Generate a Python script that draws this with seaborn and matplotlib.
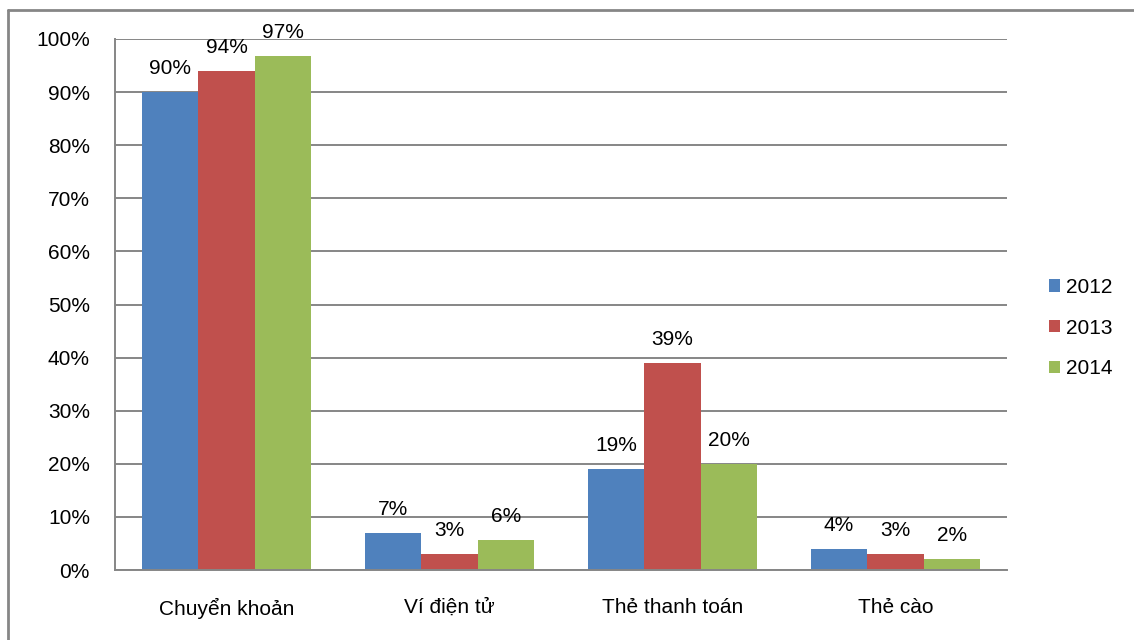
import pandas as pd
import numpy as np
import seaborn as sns
import matplotlib.pyplot as plt
from matplotlib.lines import Line2D
from matplotlib.ticker import FuncFormatter


#%% data
categories = ["Chuyển khoản", "Ví điện tử", "Thẻ thanh toán", "Thẻ cào"]
years = ["2012", "2013", "2014"]
values_2012 = [90, 7, 19, 4]
values_2013 = [94, 3, 39, 3]
values_2014 = [96.8, 5.6, 20, 2]
colors = ["#4F81BD", "#C0504D", "#9BBB59"]

df = pd.DataFrame({
    "category": categories * 3,
    "year": [y for y in years for _ in categories],
    "value": values_2012 + values_2013 + values_2014,
})

#%% plot
sns.set_style("white")
plt.rcParams["font.family"] = ["Liberation Sans", "DejaVu Sans"]
plt.rcParams["text.color"] = "black"
plt.rcParams["xtick.labelcolor"] = "black"
plt.rcParams["ytick.labelcolor"] = "black"

fig = plt.figure(figsize=(11.34, 6.4), dpi=100)
ax = fig.add_axes([115 / 1134, 1 - 570 / 640, (1007 - 115) / 1134, (570 - 39) / 640])

sns.barplot(data=df, x="category", y="value", hue="year", order=categories,
            hue_order=years, palette=colors, saturation=1, width=0.76,
            gap=0, ax=ax, errorbar=None, linewidth=0)

for c in ax.containers:
    ax.bar_label(c, labels=[f"{v:.0f}%" for v in c.datavalues], padding=10,
                 fontsize=15, color="black")

ax.set_ylim(0, 100)
ax.set_xlim(-0.5, 3.5)
ax.set_yticks(np.arange(0, 101, 10))
ax.yaxis.set_major_formatter(FuncFormatter(lambda v, p: f"{v:.0f}%"))
ax.yaxis.grid(True, color="#868686", linewidth=1.4)
ax.set_axisbelow(True)

ax.set_xticks(np.arange(-0.5, 4, 1))
ax.set_xticklabels([])
ax.set_xticks(range(4), categories, minor=True)
ax.tick_params(axis="x", which="major", direction="out", length=6, width=1.4, color="#868686")
ax.tick_params(axis="x", which="minor", length=0, pad=20, labelsize=15)
ax.tick_params(axis="y", direction="out", length=6, width=1.4, color="#868686", pad=12, labelsize=15)
ax.set_xlabel("")
ax.set_ylabel("")

for s in ["top", "right"]:
    ax.spines[s].set_visible(False)
for s in ["left", "bottom"]:
    ax.spines[s].set_color("#868686")
    ax.spines[s].set_linewidth(1.4)

ax.legend(loc="center left", bbox_to_anchor=(1030 / 1134, 1 - 328 / 640),
          bbox_transform=fig.transFigure, frameon=False, fontsize=15,
          handlelength=0.55, handleheight=0.55, labelspacing=1.05, handletextpad=0.3)

# outer frame
fig.add_artist(Line2D([8 / 1134, 1], [1 - 10 / 640, 1 - 10 / 640], color="#868686", lw=2))
fig.add_artist(Line2D([8 / 1134, 8 / 1134], [0, 1 - 10 / 640], color="#868686", lw=2))

fig.savefig("out.png", dpi=100)
